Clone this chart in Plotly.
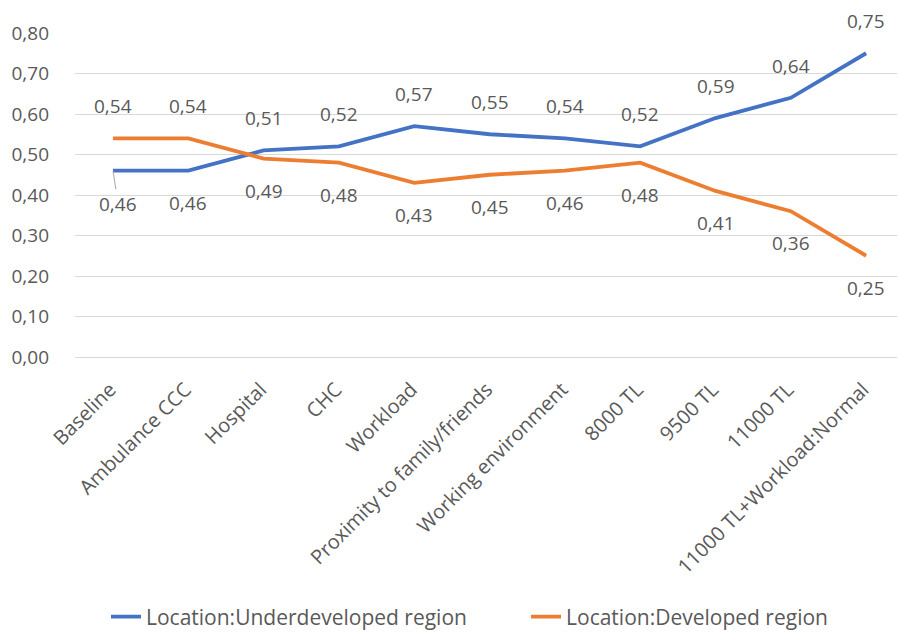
import plotly.graph_objects as go

categories = ["Baseline", "Ambulance CCC", "Hospital", "CHC", "Workload",
              "Proximity to family/friends", "Working environment", "8000 TL",
              "9500 TL", "11000 TL", "11000 TL+Workload:Normal"]
underdeveloped = [0.46, 0.46, 0.51, 0.52, 0.57, 0.55, 0.54, 0.52, 0.59, 0.64, 0.75]
developed = [0.54, 0.54, 0.49, 0.48, 0.43, 0.45, 0.46, 0.48, 0.41, 0.36, 0.25]
series_names = ["Location:Underdeveloped region", "Location:Developed region"]
colors = ["#4472C4", "#ED7D31"]
yticks = [0.0, 0.1, 0.2, 0.3, 0.4, 0.5, 0.6, 0.7, 0.8]

FONT = "Open Sans"
GREY = "#595959"

fig = go.Figure()
legend_ids = ["legend", "legend2"]
for name, vals, col, lg in zip(series_names, [underdeveloped, developed], colors, legend_ids):
    fig.add_trace(go.Scatter(x=categories, y=vals, mode="lines", name=name,
                             legend=lg, line=dict(color=col, width=3.8)))

annotations = []
for i, c in enumerate(categories):
    u, d = underdeveloped[i], developed[i]
    for s, (v, other) in enumerate(((u, d), (d, u))):
        above = v > other
        txt = f"{v:.2f}".replace(".", ",")
        fnt = dict(family=FONT, size=19, color=GREY)
        if i == 0 and s == 0:
            # label moved off the point with a leader line
            annotations.append(dict(x=c, y=v, xref="x", yref="y", text=txt,
                                    showarrow=True, arrowhead=0, arrowwidth=1,
                                    arrowcolor="#A6A6A6", ax=5, ay=33,
                                    font=fnt))
        else:
            annotations.append(dict(x=c, y=v, xref="x", yref="y", text=txt,
                                    showarrow=False,
                                    yshift=32 if above else -32, font=fnt))

legend_font = dict(family=FONT, size=21, color=GREY)
fig.update_layout(
    width=898, height=632,
    margin=dict(l=75, r=1, t=33, b=275, autoexpand=False),
    paper_bgcolor="white", plot_bgcolor="white",
    separators=",.",
    font=dict(family=FONT, size=19, color=GREY),
    showlegend=True,
    legend=dict(orientation="h", x=0.0377, xanchor="left", y=-0.8025, yanchor="middle",
                font=legend_font),
    legend2=dict(orientation="h", x=0.5487, xanchor="left", y=-0.8025, yanchor="middle",
                 font=legend_font),
    annotations=annotations,
)
fig.update_yaxes(range=[0, 0.8], tickvals=yticks, tickformat=".2f",
                 showgrid=True, gridcolor="#D9D9D9", gridwidth=1,
                 zeroline=False, showline=False, ticks="",
                 ticklabelstandoff=25,
                 tickfont=dict(family=FONT, size=19, color=GREY))
fig.update_xaxes(range=[-0.505, 10.41], tickangle=-45, showgrid=False, zeroline=False,
                 showline=True, linecolor="#D9D9D9", linewidth=1, ticks="",
                 ticklabelstandoff=12, ticklabelshift=-3,
                 tickfont=dict(family=FONT, size=20, color=GREY))

fig.write_html("out.html")
